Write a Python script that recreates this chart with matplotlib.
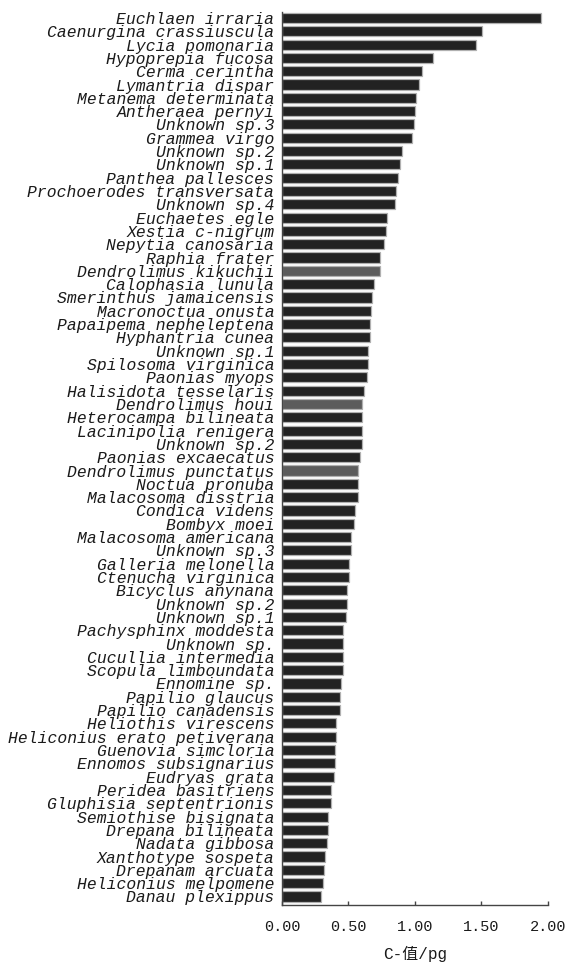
import matplotlib
matplotlib.use("Agg")
import matplotlib.pyplot as plt
import numpy as np

species = [
    "Euchlaen irraria", "Caenurgina crassiuscula", "Lycia pomonaria", "Hypoprepia fucosa",
    "Cerma cerintha", "Lymantria dispar", "Metanema determinata", "Antheraea pernyi",
    "Unknown sp.3", "Grammea virgo", "Unknown sp.2", "Unknown sp.1",
    "Panthea pallesces", "Prochoerodes transversata", "Unknown sp.4", "Euchaetes egle",
    "Xestia c-nigrum", "Nepytia canosaria", "Raphia frater", "Dendrolimus kikuchii",
    "Calophasia lunula", "Smerinthus jamaicensis", "Macronoctua onusta", "Papaipema nepheleptena",
    "Hyphantria cunea", "Unknown sp.1", "Spilosoma virginica", "Paonias myops",
    "Halisidota tesselaris", "Dendrolimus houi", "Heterocampa bilineata", "Lacinipolia renigera",
    "Unknown sp.2", "Paonias excaecatus", "Dendrolimus punctatus", "Noctua pronuba",
    "Malacosoma disstria", "Condica videns", "Bombyx moei", "Malacosoma americana",
    "Unknown sp.3", "Galleria melonella", "Ctenucha virginica", "Bicyclus anynana",
    "Unknown sp.2", "Unknown sp.1", "Pachysphinx moddesta", "Unknown sp.",
    "Cucullia intermedia", "Scopula limboundata", "Ennomine sp.", "Papilio glaucus",
    "Papilio canadensis", "Heliothis virescens", "Heliconius erato petiverana", "Guenovia simcloria",
    "Ennomos subsignarius", "Eudryas grata", "Peridea basitriens", "Gluphisia septentrionis",
    "Semiothise bisignata", "Drepana bilineata", "Nadata gibbosa", "Xanthotype sospeta",
    "Drepanam arcuata", "Heliconius melpomene", "Danau plexippus",
]

c_values = [
    1.945, 1.505, 1.457, 1.135,
    1.05, 1.03, 1.01, 1.00,
    0.99, 0.98, 0.90, 0.89,
    0.87, 0.86, 0.85, 0.79,
    0.78, 0.77, 0.74, 0.735,
    0.69, 0.68, 0.67, 0.66,
    0.66, 0.65, 0.65, 0.64,
    0.62, 0.60, 0.605, 0.605,
    0.60, 0.585, 0.575, 0.575,
    0.575, 0.55, 0.54, 0.52,
    0.52, 0.505, 0.505, 0.49,
    0.49, 0.48, 0.46, 0.46,
    0.46, 0.46, 0.445, 0.435,
    0.435, 0.405, 0.405, 0.40,
    0.40, 0.39, 0.365, 0.365,
    0.345, 0.345, 0.335, 0.325,
    0.315, 0.305, 0.295,
]

highlighted = ["Dendrolimus kikuchii", "Dendrolimus houi", "Dendrolimus punctatus"]

x_ticks = [0.0, 0.5, 1.0, 1.5, 2.0]
x_tick_labels = ["0.00", "0.50", "1.00", "1.50", "2.00"]
x_label = "C-值/pg"

fig = plt.figure(figsize=(5.65, 9.65), dpi=100)
ax = fig.add_axes([0.4991, 0.0622, 0.4708, 0.9254])

ypos = np.arange(len(species))
colors = ["#5c5c5c" if s in highlighted else "#222222" for s in species]
ax.barh(ypos, c_values, height=0.76, color=colors, edgecolor="#b0b0b0", linewidth=0.9)

ax.set_xlim(0, 2.0)
ax.set_ylim(66.64, -0.45)

label_font = ["Liberation Mono", "Noto Sans CJK SC"]
ax.set_yticks(ypos)
ax.set_yticklabels(species, fontfamily=label_font, fontstyle="italic", fontsize=11.8, color="#1a1a1a")
ax.tick_params(axis="y", length=0, pad=5.5)

ax.set_xticks(x_ticks)
ax.set_xticklabels(x_tick_labels, fontfamily=label_font, fontsize=11, color="#1a1a1a")
ax.tick_params(axis="x", direction="in", length=3, width=1, color="#444444", pad=11)

ax.set_xlabel(x_label, fontfamily=label_font, fontsize=11.5, color="#1a1a1a", labelpad=8)

for side in ["top", "right"]:
    ax.spines[side].set_visible(False)
for side in ["left", "bottom"]:
    ax.spines[side].set_color("#444444")
    ax.spines[side].set_linewidth(1.0)

fig.savefig("out.png", dpi=100)
